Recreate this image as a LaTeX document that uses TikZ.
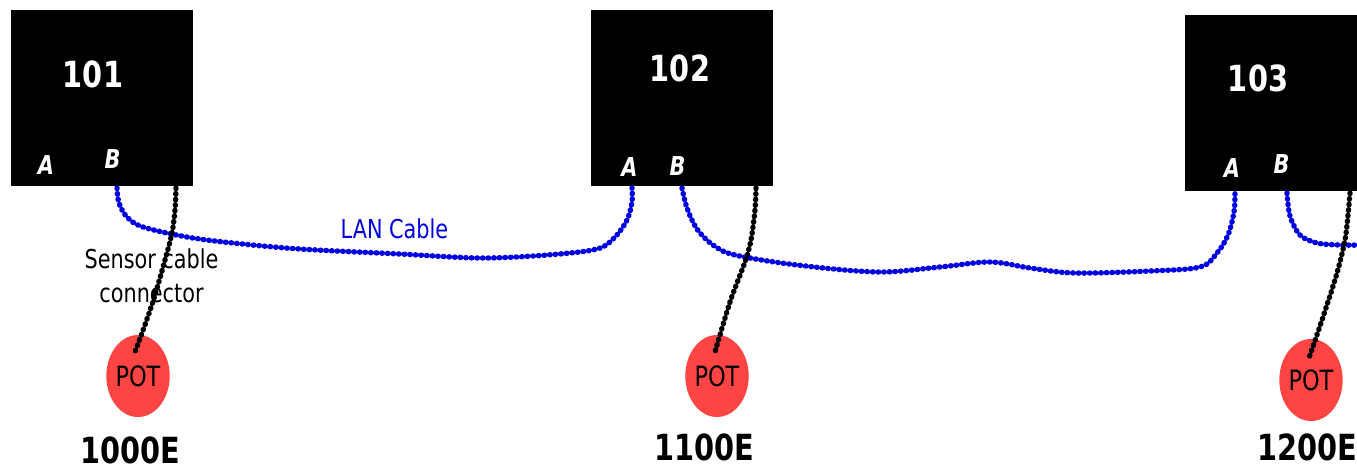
\documentclass[tikz,border=0pt]{standalone}
\usepackage{fontspec}
\setmainfont[FakeStretch=0.8]{DejaVu Sans}
\usetikzlibrary{shapes.geometric}
\definecolor{lanblue}{RGB}{0,0,225}
\definecolor{potred}{RGB}{255,68,68}
\begin{document}
\begin{tikzpicture}[x=1pt,y=1pt,
  box/.style={fill=black, draw=none, minimum width=182pt, minimum height=176pt, inner sep=0pt},
  num/.style={text=white, font=\fontsize{36}{40}\selectfont\bfseries, anchor=base, inner sep=0pt},
  port/.style={text=white, font=\fontsize{26}{30}\selectfont\bfseries\itshape, anchor=base, inner sep=0pt},
  pot/.style={ellipse, fill=potred, minimum width=62pt, minimum height=82pt, inner sep=0pt, font=\fontsize{28}{32}\selectfont},
  posl/.style={font=\fontsize{36}{40}\selectfont\bfseries, anchor=base, inner sep=0pt},
  lbl/.style={font=\fontsize{26}{30}\selectfont, anchor=base, inner sep=0pt},
  lan/.style={draw=lanblue, line width=5.4pt, line cap=round, dash pattern=on 0.6pt off 5pt},
  sensor/.style={draw=black, line width=5.4pt, line cap=round, dash pattern=on 0.6pt off 5pt}]
\useasboundingbox (0,0) rectangle (1357,-469);
\clip (0,0) rectangle (1357,-469);
\fill[white] (0,0) rectangle (1357,-469);

% boxes
\node[box] (b1) at (102,-98) {};
\node[box] (b2) at (682,-98) {};
\node[box] (b3) at (1276,-103) {};
\node[num] (t1) at (93,-87) {101};
\node[num] (t2) at (680,-81) {102};
\node[num] (t3) at (1258,-91) {103};
\node[port] (a1) at (46,-174) {A};
\node[port] (bb1) at (112.5,-168) {B};
\node[port] (a2) at (629.5,-176) {A};
\node[port] (bb2) at (677.5,-175) {B};
\node[port] (a3) at (1232,-177) {A};
\node[port] (bb3) at (1281.5,-173) {B};

% ports
\coordinate (b1B) at (117,-188);
\coordinate (b1S) at (176,-188);
\coordinate (b2A) at (632,-188);
\coordinate (b2B) at (682,-188);
\coordinate (b2S) at (756,-188);
\coordinate (b3A) at (1235,-193);
\coordinate (b3B) at (1287,-193);
\coordinate (b3S) at (1350,-193);
\coordinate (e3) at (1362,-245);

% pots
\node[pot] (p1) at (138,-376) {POT};
\node[pot] (p2) at (717,-376) {POT};
\node[pot] (p3) at (1311,-380) {POT};
\coordinate (s1) at (135,-352);
\coordinate (s2) at (715,-352);
\coordinate (s3) at (1309,-358);

% LAN cables
\draw[lan] plot[smooth, tension=0.55] coordinates {(b1B) (119,-203) (127,-217) (143,-227) (187,-237) (233,-243) (300,-249) (400,-254) (480,-258) (547,-255) (597,-249) (615,-237) (627,-220) (632,-202) (b2A)};
\draw[lan] plot[smooth, tension=0.55] coordinates {(b2B) (687,-208) (697,-229) (713,-245) (735,-255) (797,-265) (878,-272) (940,-267) (990,-262) (1030,-268) (1075,-273) (1150,-271) (1200,-267) (1217,-253) (1228,-235) (1234,-212) (b3A)};
\draw[lan] plot[smooth, tension=0.55] coordinates {(b3B) (1290,-216) (1300,-235) (1317,-243) (1340,-245) (e3)};

% sensor cables
\draw[sensor] plot[smooth, tension=0.5] coordinates {(b1S) (175,-210) (172,-233) (165,-260) (155,-295) (146,-322) (s1)};
\draw[sensor] plot[smooth, tension=0.5] coordinates {(b2S) (755,-210) (751,-240) (745,-262) (730,-302) (s2)};
\draw[sensor] plot[smooth, tension=0.5] coordinates {(b3S) (1348,-215) (1345,-240) (1337,-273) (1323,-317) (s3)};

% labels
\node[lbl, text=lanblue] (lanl) at (394.5,-238) {LAN Cable};
\node[lbl] (sc1) at (151.5,-268) {Sensor cable};
\node[lbl] (sc2) at (151.5,-302) {connector};
\node[posl] (k1) at (130,-463) {1000E};
\node[posl] (k2) at (704.5,-460) {1100E};
\node[posl] (k3) at (1307.5,-460) {1200E};
\end{tikzpicture}
\end{document}
